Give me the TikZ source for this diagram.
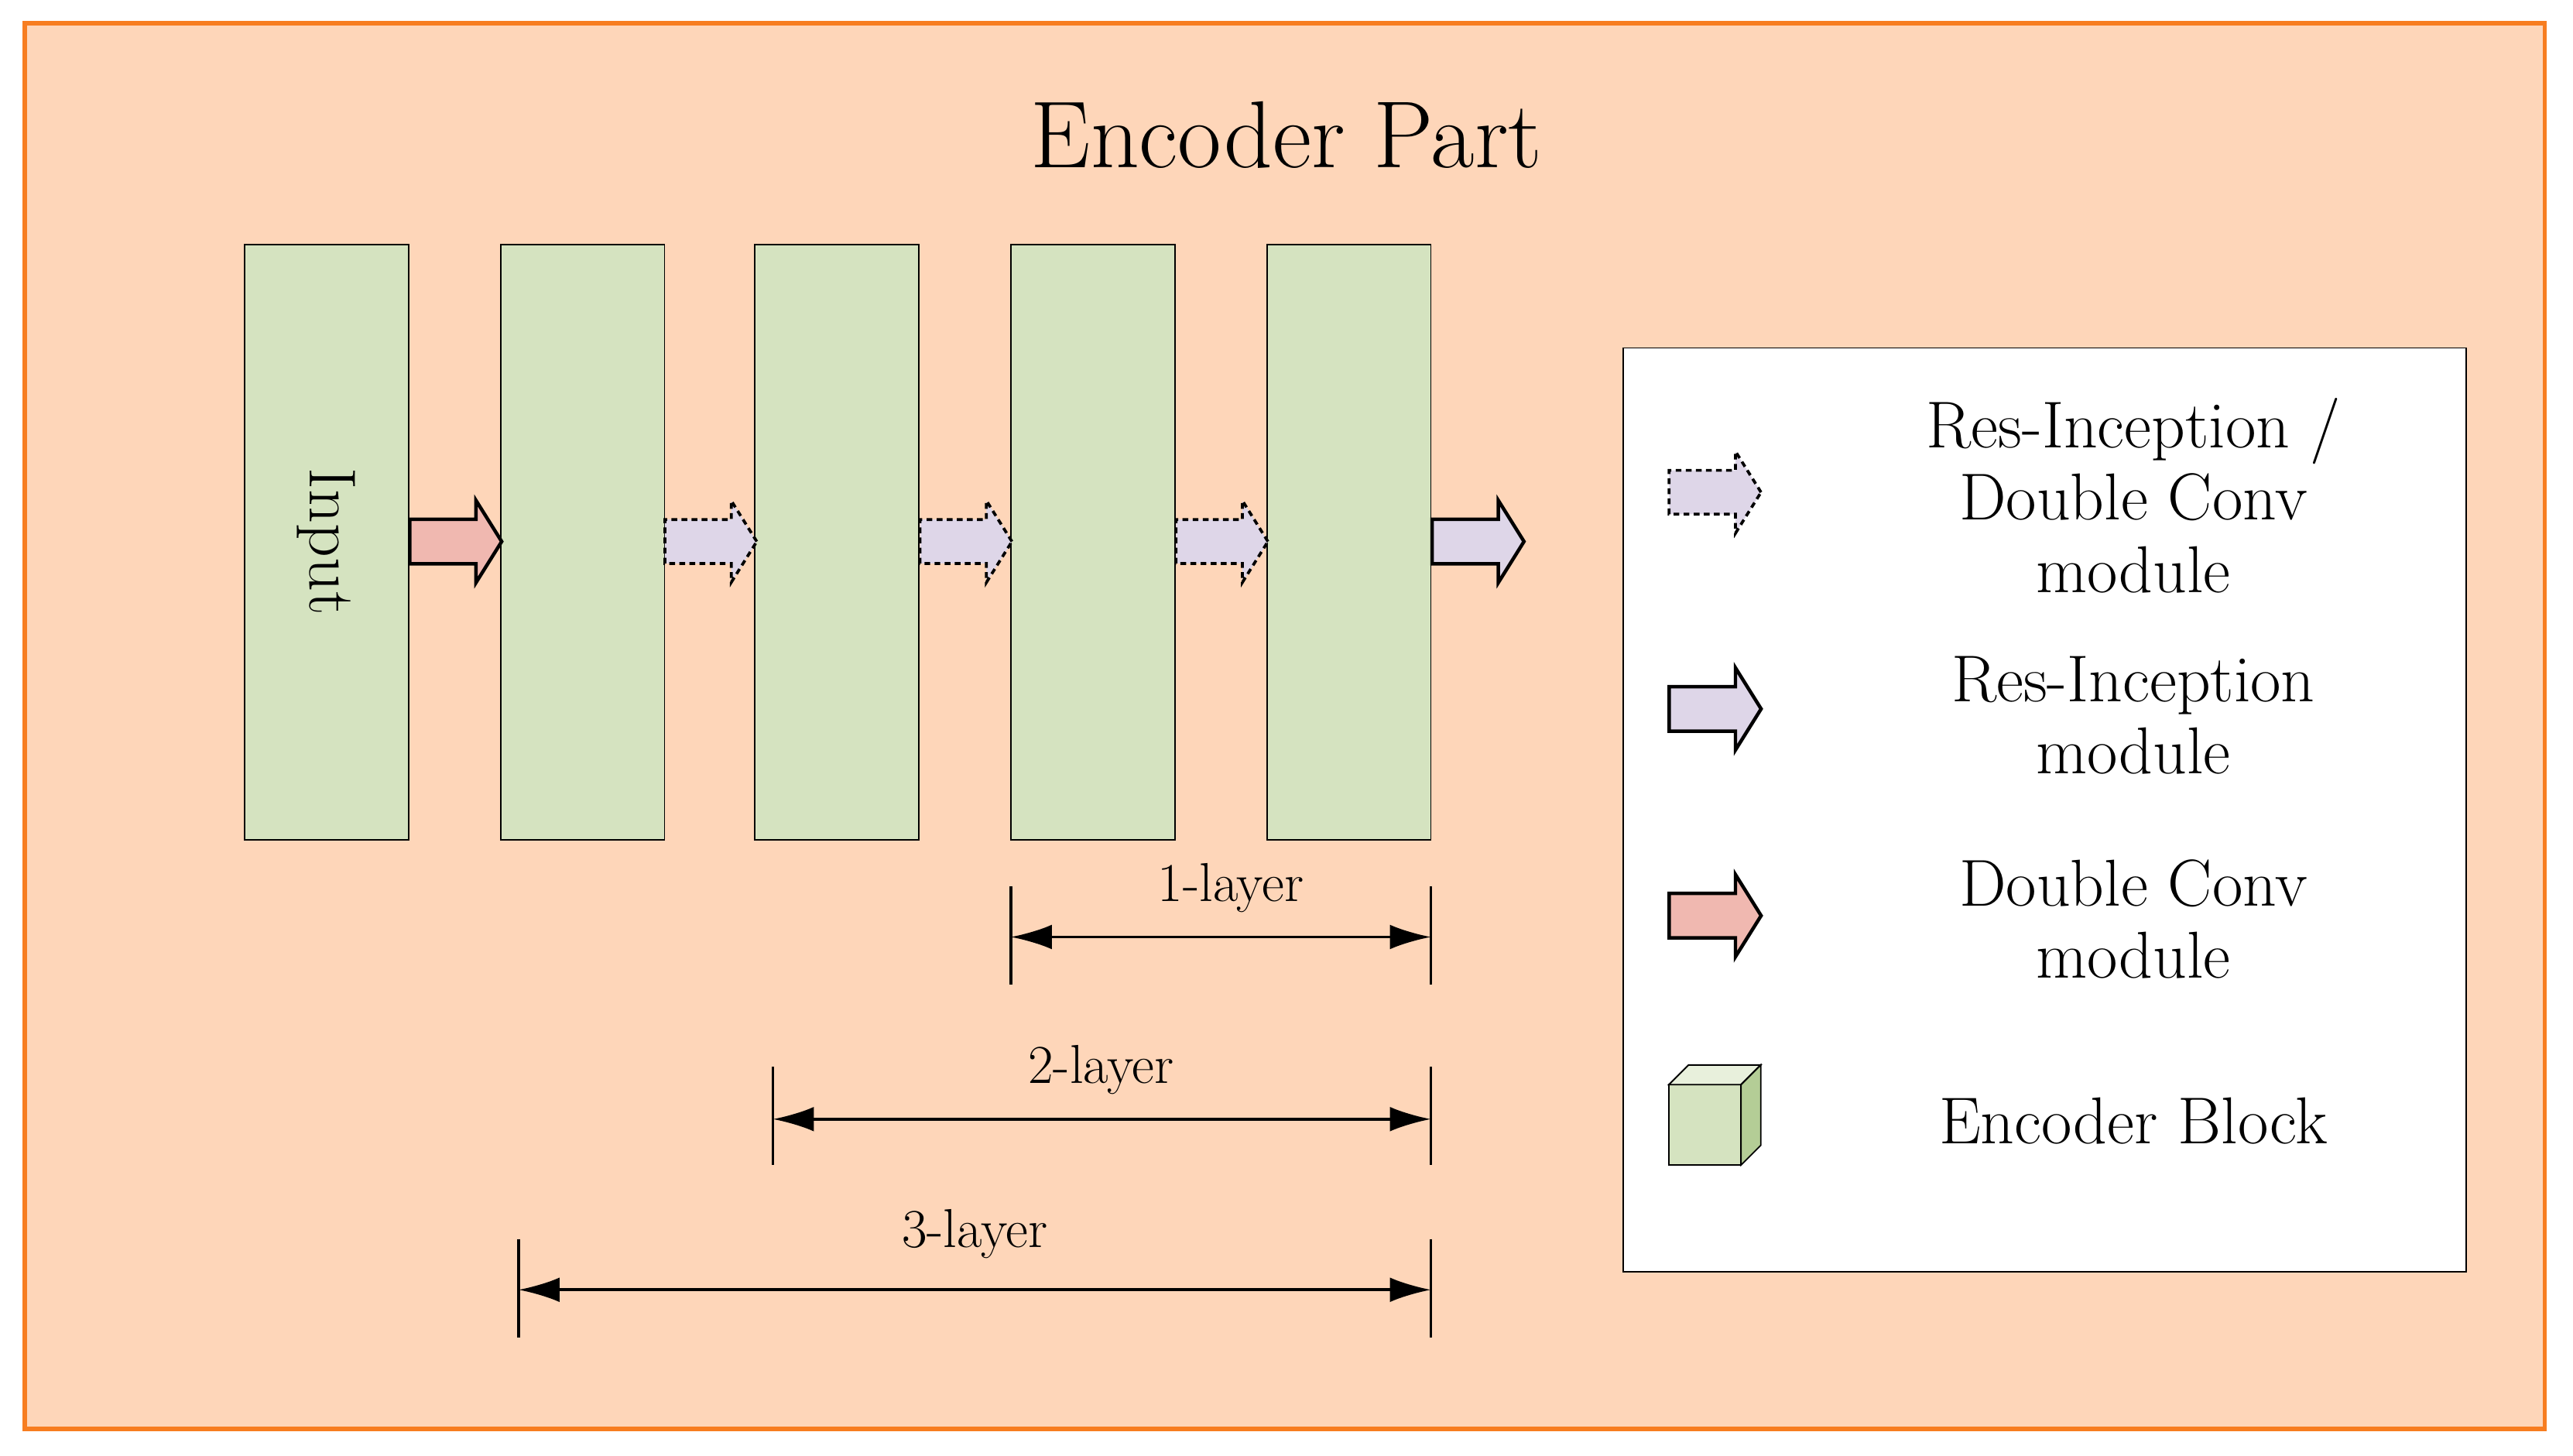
\documentclass[tikz,border=0pt]{standalone}
\usetikzlibrary{shapes.arrows,arrows.meta}
\begin{document}
\begin{tikzpicture}[x=0.02cm,y=-0.02cm,
 blk/.style={draw=black,line width=0.5pt,fill={rgb,255:red,213;green,227;blue,192},minimum width=2cm,minimum height=7.26cm,inner sep=0},
 arr/.style={single arrow,draw=black,line width=1.2pt,minimum width=0.96cm,minimum height=1.12cm,single arrow head extend=0.23cm,single arrow tip angle=116,inner xsep=0,inner ysep=0.25cm,text height=0,text depth=0},
 red/.style={arr,fill={rgb,255:red,240;green,184;blue,176}},
 lav/.style={arr,fill={rgb,255:red,222;green,214;blue,232}},
 dlav/.style={lav,dashed,dash pattern=on 2pt off 1.5pt,line width=1pt},
 lt/.style={font=\fontsize{23}{27}\selectfont,align=center},
 dim/.style={line width=1pt,{Latex[length=0.5cm,width=0.3cm]}-{Latex[length=0.5cm,width=0.3cm]}},
 tk/.style={line width=1pt},
 dl/.style={font=\fontsize{19}{23}\selectfont}]
\useasboundingbox (0,0) rectangle (1568,887);
\node[draw={rgb,255:red,247;green,125;blue,32},line width=1.5pt,fill={rgb,255:red,254;green,214;blue,185},minimum width=30.72cm,minimum height=17.14cm,inner sep=0] (bg) at (783,442.5) {};
\node[font=\fontsize{33}{40}\selectfont] (title) at (784,82) {Encoder Part};
\node[blk] (b1) at (199,330.5) {};
\node[blk] (b2) at (355,330.5) {};
\node[blk] (b3) at (510,330.5) {};
\node[blk] (b4) at (666,330.5) {};
\node[blk] (b5) at (822,330.5) {};
\node[lt,rotate=-90] (inp) at (199,330) {Input};
\node[red] (a1) at (273.5,330) {};
\node[dlav] (a2) at (429,330) {};
\node[dlav] (a3) at (584.5,330) {};
\node[dlav] (a4) at (740.5,330) {};
\node[lav] (a5) at (896.5,330) {};
% dimensions
\coordinate (t1a) at (616,540); \coordinate (t1b) at (616,600);
\coordinate (t1c) at (872,540); \coordinate (t1d) at (872,600);
\draw[tk] (t1a)--(t1b); \draw[tk] (t1c)--(t1d);
\coordinate (d1a) at (616,571); \coordinate (d1b) at (872,571);
\draw[dim] (d1a)--(d1b);
\node[dl] (l1) at (750,541) {1-layer};
\coordinate (t2a) at (471,650); \coordinate (t2b) at (471,710);
\coordinate (t2c) at (872,650); \coordinate (t2d) at (872,710);
\draw[tk] (t2a)--(t2b); \draw[tk] (t2c)--(t2d);
\coordinate (d2a) at (471,682); \coordinate (d2b) at (872,682);
\draw[dim] (d2a)--(d2b);
\node[dl] (l2) at (671,652) {2-layer};
\coordinate (t3a) at (316,755); \coordinate (t3b) at (316,815);
\coordinate (t3c) at (872,755); \coordinate (t3d) at (872,815);
\draw[tk] (t3a)--(t3b); \draw[tk] (t3c)--(t3d);
\coordinate (d3a) at (316,786); \coordinate (d3b) at (872,786);
\draw[dim] (d3a)--(d3b);
\node[dl] (l3) at (594,752) {3-layer};
% legend
\node[draw=black,line width=0.5pt,fill=white,minimum width=10.28cm,minimum height=11.26cm,inner sep=0] (leg) at (1246,493.5) {};
\node[dlav] (la1) at (1041,300) {};
\node[lav] (la2) at (1041,432) {};
\node[red] (la3) at (1041,558) {};
\node[lt] (lt1) at (1300,302) {Res-Inception /\\[-2pt]Double Conv\\[-2pt]module};
\node[lt] (lt2) at (1300,436) {Res-Inception\\[-2pt]module};
\node[lt] (lt3) at (1300,560) {Double Conv\\[-2pt]module};
\node[lt] (lt4) at (1300,683) {Encoder Block};
% cube
\draw[line width=0.5pt,fill={rgb,255:red,213;green,227;blue,192}] (1017,661) rectangle (1061,710);
\draw[line width=0.5pt,fill={rgb,255:red,232;green,240;blue,220}] (1017,661)--(1029,649)--(1073,649)--(1061,661)--cycle;
\draw[line width=0.5pt,fill={rgb,255:red,180;green,205;blue,150}] (1061,661)--(1073,649)--(1073,698)--(1061,710)--cycle;
\end{tikzpicture}
\end{document}
